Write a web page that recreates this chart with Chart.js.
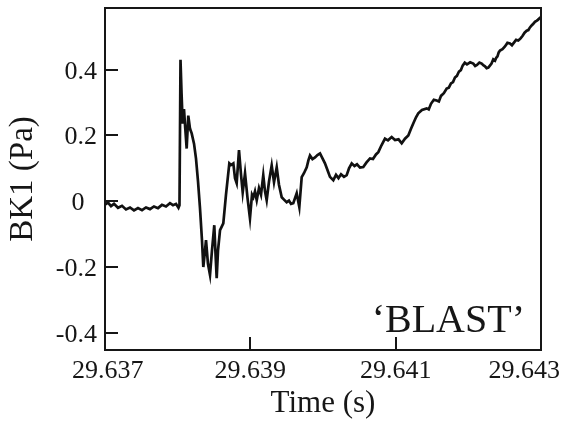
<!DOCTYPE html>
<html>
<head>
<meta charset="utf-8">
<script src="https://cdn.jsdelivr.net/npm/chart.js@4/dist/chart.umd.min.js"></script>
<style>
  html, body { margin: 0; padding: 0; background: #fff; }
  #wrap { width: 568px; height: 424px; position: relative; }
</style>
</head>
<body>
<div id="wrap"><canvas id="c"></canvas></div>
<script>
// Microphone BK1 pressure trace around the blast arrival
const timeSec = [
  29.637000, 29.637041, 29.637083, 29.637124, 29.637179, 29.637234, 29.637289, 29.637344,
  29.637399, 29.637454, 29.637509, 29.637564, 29.637619, 29.637674, 29.637729, 29.637784,
  29.637839, 29.637894, 29.637936, 29.637977, 29.638011, 29.638025, 29.638039, 29.638053,
  29.638069, 29.638087, 29.638105, 29.638124, 29.638146, 29.638170, 29.638193, 29.638225,
  29.638252, 29.638280, 29.638307, 29.638335, 29.638353, 29.638372, 29.638390, 29.638417,
  29.638445, 29.638472, 29.638504, 29.638521, 29.638537, 29.638555, 29.638583, 29.638628,
  29.638665, 29.638711, 29.638734, 29.638766, 29.638789, 29.638812, 29.638844, 29.638872,
  29.638895, 29.638927, 29.638961, 29.638995, 29.639023, 29.639041, 29.639064, 29.639088,
  29.639119, 29.639147, 29.639178, 29.639202, 29.639225, 29.639257, 29.639294, 29.639326,
  29.639363, 29.639394, 29.639432, 29.639463, 29.639500, 29.639532, 29.639560, 29.639591,
  29.639638, 29.639674, 29.639707, 29.639738, 29.639776, 29.639800, 29.639821, 29.639855,
  29.639890, 29.639924, 29.639959, 29.639993, 29.640027, 29.640069, 29.640096, 29.640142,
  29.640179, 29.640213, 29.640248, 29.640289, 29.640326, 29.640358, 29.640395, 29.640433,
  29.640468, 29.640509, 29.640554, 29.640599, 29.640647, 29.640688, 29.640729, 29.640761,
  29.640805, 29.640853, 29.640894, 29.640945, 29.640991, 29.641039, 29.641083, 29.641128,
  29.641174, 29.641211, 29.641242, 29.641280, 29.641311, 29.641362,
  29.641427, 29.641455, 29.641486, 29.641525, 29.641565, 29.641595, 29.641624, 29.641663,
  29.641702, 29.641731, 29.641761, 29.641789, 29.641816, 29.641843, 29.641871, 29.641897,
  29.641922, 29.641951, 29.641981, 29.642025, 29.642068, 29.642094, 29.642119, 29.642152,
  29.642184, 29.642206, 29.642229, 29.642252, 29.642275, 29.642297, 29.642319, 29.642343,
  29.642367, 29.642384, 29.642401, 29.642418, 29.642436, 29.642470, 29.642504, 29.642538,
  29.642573, 29.642600, 29.642628, 29.642657, 29.642687, 29.642716, 29.642745, 29.642774,
  29.642803, 29.642826, 29.642848, 29.642871, 29.642894, 29.642916, 29.642938, 29.642957,
  29.642976, 29.643000
];
const pressurePa = [
  -0.010, -0.004, -0.015, -0.008, -0.020, -0.014, -0.025, -0.019,
  -0.028, -0.021, -0.027, -0.019, -0.024, -0.016, -0.021, -0.011,
  -0.016, -0.006, -0.012, -0.008, -0.020, -0.012, 0.430, 0.330,
  0.236, 0.280, 0.220, 0.160, 0.260, 0.220, 0.206, 0.175,
  0.130, 0.060, -0.020, -0.120, -0.200, -0.160, -0.118, -0.190,
  -0.224, -0.150, -0.073, -0.160, -0.234, -0.150, -0.088, -0.067,
  0.020, 0.115, 0.110, 0.115, 0.070, 0.055, 0.155, 0.080,
  0.027, 0.085, 0.010, -0.052, 0.020, 0.012, 0.030, 0.003,
  0.040, 0.020, 0.079, 0.030, 0.003, 0.060, 0.109, 0.058,
  0.103, 0.050, 0.012, 0.005, -0.003, 0.002, -0.008, -0.006,
  0.024, -0.018, 0.073, 0.085, 0.103, 0.125, 0.139, 0.128,
  0.133, 0.140, 0.145, 0.130, 0.115, 0.090, 0.074, 0.064,
  0.080, 0.070, 0.082, 0.074, 0.079, 0.100, 0.115, 0.107,
  0.112, 0.102, 0.104, 0.118, 0.130, 0.128, 0.142, 0.149,
  0.170, 0.190, 0.185, 0.195, 0.186, 0.188, 0.176, 0.190,
  0.200, 0.220, 0.236, 0.255, 0.267, 0.277,
  0.282, 0.279, 0.296, 0.308, 0.306, 0.303, 0.320, 0.328,
  0.342, 0.345, 0.358, 0.362, 0.376, 0.381, 0.394, 0.398,
  0.412, 0.421, 0.416, 0.422, 0.418, 0.411, 0.414, 0.421,
  0.418, 0.413, 0.410, 0.404, 0.406, 0.412, 0.418, 0.431,
  0.427, 0.436, 0.440, 0.452, 0.458, 0.462, 0.470, 0.481,
  0.479, 0.474, 0.482, 0.490, 0.488, 0.494, 0.502, 0.512,
  0.518, 0.520, 0.528, 0.534, 0.539, 0.545, 0.548, 0.551,
  0.555, 0.560
];
const xTickValues = [29.637, 29.639, 29.641, 29.643];
const xTickLabels = ['29.637', '29.639', '29.641', '29.643'];
const yTickValues = [0.4, 0.2, 0, -0.2, -0.4];
const yTickLabels = ['0.4', '0.2', '0', '-0.2', '-0.4'];

const INK = '#161616';
const SERIF = '"Liberation Serif", "DejaVu Serif", serif';

// Boxed frame, inward tick marks, tick labels and the in-plot caption
const frameAndLabels = {
  id: 'frameAndLabels',
  afterDatasetsDraw(chart) {
    const { ctx, chartArea: a, scales: { x, y } } = chart;
    ctx.save();
    ctx.strokeStyle = INK;
    ctx.lineWidth = 2;
    ctx.strokeRect(a.left, a.top, a.right - a.left, a.bottom - a.top);

    ctx.beginPath();
    y.ticks.forEach(t => {
      const py = Math.round(y.getPixelForValue(t.value));
      ctx.moveTo(a.left, py); ctx.lineTo(a.left + 13, py);
    });
    x.ticks.forEach(t => {
      const px = Math.round(x.getPixelForValue(t.value));
      ctx.moveTo(px, a.bottom); ctx.lineTo(px, a.bottom - 13);
    });
    ctx.stroke();

    ctx.fillStyle = INK;
    ctx.font = '26px ' + SERIF;
    ctx.textBaseline = 'alphabetic';
    // y tick labels
    y.ticks.forEach((t, i) => {
      const py = y.getPixelForValue(t.value);
      const label = yTickLabels[i];
      if (label === '0') {
        ctx.textAlign = 'center';
        ctx.fillText(label, a.left - 27, py + 9);
      } else {
        ctx.textAlign = 'right';
        ctx.fillText(label, a.left - 8, py + 9);
      }
    });
    // x tick labels, kept inside the canvas edges
    ctx.textAlign = 'center';
    x.ticks.forEach((t, i) => {
      const label = xTickLabels[i];
      const w = ctx.measureText(label).width;
      let cx = x.getPixelForValue(t.value);
      cx = Math.max(cx, 72 + w / 2);
      cx = Math.min(cx, chart.width - 8 - w / 2);
      ctx.fillText(label, cx, a.bottom + 28);
    });

    // caption
    ctx.font = '40px ' + SERIF;
    ctx.textAlign = 'right';
    ctx.fillText('\u2018BLAST\u2019', a.right - 16, a.bottom - 18);
    ctx.restore();
  }
};

new Chart(document.getElementById('c'), {
  type: 'line',
  data: {
    datasets: [{
      data: timeSec.map((t, i) => ({ x: t, y: pressurePa[i] })),
      borderColor: '#111',
      borderWidth: 2.7,
      pointRadius: 0,
      tension: 0,
      fill: false
    }]
  },
  options: {
    responsive: true,
    maintainAspectRatio: false,
    animation: false,
    layout: { padding: { top: 8, right: 27, bottom: 0, left: 0 } },
    plugins: { legend: { display: false }, tooltip: { enabled: false } },
    scales: {
      x: {
        type: 'linear',
        min: 29.637,
        max: 29.643,
        afterBuildTicks: s => { s.ticks = xTickValues.map(v => ({ value: v })); },
        afterFit: s => { s.height = 74; },
        ticks: { display: false },
        grid: { display: false },
        border: { display: false },
        title: {
          display: true,
          text: 'Time (s)',
          color: INK,
          font: { family: SERIF, size: 31, weight: 'normal' },
          padding: { top: 0, bottom: 2 }
        }
      },
      y: {
        type: 'linear',
        min: -0.452,
        max: 0.587,
        afterBuildTicks: s => { s.ticks = yTickValues.map(v => ({ value: v })); },
        afterFit: s => { s.width = 105; },
        ticks: { display: false },
        grid: { display: false },
        border: { display: false },
        title: {
          display: true,
          text: 'BK1 (Pa)',
          color: INK,
          font: { family: SERIF, size: 33, weight: 'normal' },
          padding: { top: 4, bottom: 0 }
        }
      }
    }
  },
  plugins: [frameAndLabels]
});
</script>
</body>
</html>
